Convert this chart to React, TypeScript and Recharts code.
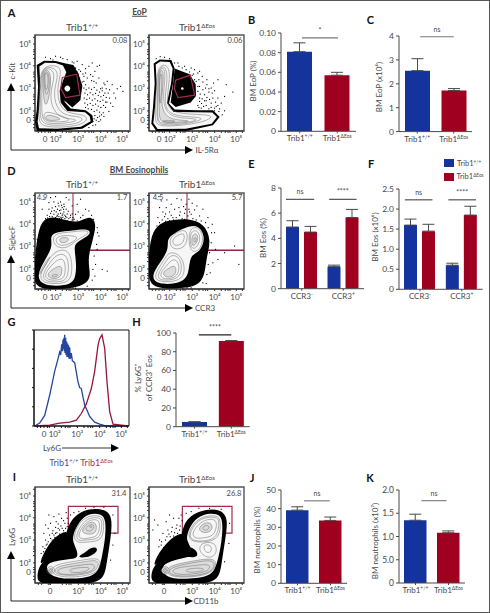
import { ReactNode } from "react";
import {
  BarChart,
  Bar,
  Cell,
  ErrorBar,
  XAxis,
  YAxis,
  ReferenceLine,
  ReferenceArea,
  ScatterChart,
  Scatter,
  LineChart,
  Line,
} from "recharts";

const FONT = "Lato, 'Open Sans', sans-serif";
const INK = "#484848";
const BLUE = "#15339c";
const RED = "#a00020";
const GATE = "#a02c4c";

// ---- bar data ----
const tribCats = ["Trib1+/+", "Trib1ΔEos"];
const ccrCats = ["CCR3-", "CCR3+"];
const tribColors = [BLUE, RED];

const eopPct = [0.081, 0.057];
const eopPctErr = [0.009, 0.003];
const eopAbs = [2.55, 1.72];
const eopAbsErr = [0.5, 0.08];
const eosPctWt = [4.9, 1.75];
const eosPctWtErr = [0.5, 0.12];
const eosPctKo = [4.5, 5.65];
const eosPctKoErr = [0.45, 0.65];
const eosAbsWt = [1.6, 0.6];
const eosAbsWtErr = [0.15, 0.05];
const eosAbsKo = [1.45, 1.85];
const eosAbsKoErr = [0.17, 0.22];
const ly6gPct = [5, 91.5];
const ly6gPctErr = [0.3, 0.4];
const neuPct = [39.2, 33.7];
const neuPctErr = [1.8, 1.8];
const neuAbs = [1.35, 1.08];
const neuAbsErr = [0.13, 0.04];

// ---- histogram G, x in display channels, y in % of max ----
const histBlue = [[2,0],[17,3],[32,11],[47,32],[62,57],[72,70],[77,77],[80,74],[83,85],[85,78],[87,90],[88,80],[90,92],[91,78],[92,95],[93,76],[95,92],[96,74],[98,88],[99,72],[101,86],[102,72],[104,84],[105,70],[107,82],[109,70],[112,76],[115,68],[122,66],[132,46],[137,40],[142,39],[147,30],[152,22],[167,10],[182,4],[197,2],[217,0],[282,0]];
const histRed = [[2,0],[47,1],[77,3],[107,4],[127,6],[142,13],[157,23],[172,39],[182,57],[192,84],[197,91],[204,95],[212,81],[219,46],[227,15],[237,2],[282,0]];

// ---- flow plots: all coordinates are display channels (0..285) ----
const channelTicks = [30, 62, 130, 197, 262];
const channelTicksI = [45, 130, 197, 262];
const yChannelTicks = [32, 60, 128, 195, 260];
const decadeLabels = ["0", "10²", "10³", "10⁴", "10⁵"];
const decadeLabelsI = ["0", "10³", "10⁴", "10⁵"];
const minorTicks = [10, 20, 40, 46, 82, 94, 102, 108, 150, 162, 170, 176, 217, 229, 237, 243, 280];

const a1Cloud = [[92,202],[115,197],[130,172],[142,135],[136,92],[112,70],[87,92],[72,102],[75,152]];
const a1Black = [[5,197],[27,210],[62,209],[92,202],[105,180],[97,152],[87,122],[89,87],[107,67],[152,62],[172,47],[175,27],[142,7],[67,0],[5,0],[0,27],[5,62],[9,132]];
const a1Inner = [[13,193],[30,204],[62,203],[84,196],[94,176],[84,150],[74,120],[77,85],[97,60],[150,56],[164,44],[167,29],[138,13],[67,7],[12,8],[8,28],[12,65],[16,132]];
const a1Rings = [
  [[14,192],[60,198],[82,185],[68,140],[68,90],[90,52],[150,50],[160,32],[125,12],[25,10],[9,30],[14,100]],
  [[17,190],[55,192],[72,172],[58,130],[58,85],[82,45],[138,44],[146,32],[115,18],[32,15],[13,35],[18,110]],
  [[20,188],[50,187],[60,165],[48,125],[46,80],[72,38],[120,36],[126,30],[90,23],[36,20],[18,40],[22,120]],
  [[23,186],[46,182],[48,140],[40,90],[30,70],[24,120]],
  [[26,182],[42,176],[44,135],[35,100],[28,125]],
  [[29,178],[39,170],[40,140],[33,115],[30,140]],
  [[28,60],[60,52],[105,36],[100,28],[40,26],[25,38]],
  [[35,50],[60,44],[85,34],[45,30],[30,36]],
];
const a1Gate = [[82,160],[125,170],[135,107],[92,100],[77,127]];
const a1Hole = [[84,127],[97,140],[110,127],[97,114]];
const a1Dots = [[120,190],[130,185],[140,200],[150,188],[160,195],[170,205],[178,180],[185,195],[192,198],[150,175],[165,170],[172,165],[145,165],[135,180],[60,225],[75,222],[95,215],[110,208],[30,222],[45,218],[145,150],[175,150],[190,160],[205,145],[215,150],[230,140],[245,128],[255,135],[262,120],[235,115],[240,100],[225,85],[232,75],[220,60],[205,45],[195,35],[180,20],[160,12],[150,140],[195,128],[128,172],[142,172],[155,160],[168,152],[182,145],[212,128],[218,115],[222,100],[214,88],[210,72],[203,56],[190,30],[172,18],[200,130],[208,140],[222,125],[115,205],[125,210],[82,218],[52,214],
  [145,130],[152,125],[160,130],[168,126],[176,132],[184,124],[192,118],[200,122],[208,115],[148,115],[156,110],[164,116],[172,110],[180,114],[188,108],[196,104],[204,108],[212,102],[146,100],[154,96],[162,100],[170,94],[178,98],[186,92],[194,90],[202,94],[210,88],[148,85],[156,80],[164,84],[172,78],[180,82],[188,76],[196,72],[204,78],[150,72],[158,68],[168,66],[176,60],[184,64],[192,58],[198,50],[178,48],[186,42],[192,46],[182,34],[172,30],[176,38],[136,140],[140,148],[132,160],[125,178],[118,188]];

const a2Cloud = [[77,187],[100,178],[122,170],[140,140],[141,105],[125,85],[80,72],[65,85],[72,140]];
const a2Black = [[14,202],[32,214],[67,212],[77,187],[72,142],[60,82],[77,64],[142,62],[192,62],[212,42],[192,17],[112,0],[22,0],[7,22],[12,72],[17,142]];
const a2Inner = [[20,199],[34,208],[62,206],[71,187],[66,142],[54,84],[74,57],[142,56],[190,55],[204,42],[188,22],[110,7],[26,6],[13,24],[18,72],[23,142]];
const a2Rings = [
  [[23,198],[58,200],[64,160],[50,85],[70,50],[180,50],[192,40],[150,22],[30,10],[16,30],[22,100]],
  [[26,194],[52,194],[56,150],[44,85],[62,44],[150,42],[165,35],[110,20],[34,16],[22,32],[26,100]],
  [[28,190],[48,190],[48,150],[40,85],[60,40],[130,38],[150,33],[110,24],[35,20],[24,35],[28,100]],
  [[31,185],[44,183],[42,130],[35,75],[55,34],[115,32],[125,28],[60,24],[34,28],[30,50],[31,120]],
  [[33,175],[40,170],[37,110],[33,70],[30,110]],
  [[45,32],[90,30],[60,26],[38,28]],
];
const a2Gate = [[80,152],[124,167],[137,107],[87,100],[76,127]];
const a2Hole = [[94,127],[100,133],[106,127],[100,121]];
const a2Dots = [[20,218],[32,224],[45,222],[60,218],[75,205],[88,195],[98,190],[110,185],[120,178],[132,172],[145,175],[158,165],[148,155],[160,148],[172,140],[185,130],[195,122],[178,118],[165,110],[158,98],[170,92],[185,85],[150,90],[162,75],[178,68],[195,70],[208,60],[218,50],[145,78],[140,150],[150,135],[205,155],[230,140],[250,118],[225,105],[205,100],[85,205],[105,195],[125,190],[150,180],[135,185],[172,155],[192,145],[215,85],[225,62],
  [145,120],[152,112],[150,100],[156,84],[165,92],[172,102],[180,96],[190,100],[198,88],[205,78],[210,68],[170,78],[185,72],[155,70],[148,72],[195,62],[200,75],[160,125],[168,130],[178,128],[188,115],[145,135],[135,155],[128,168]];

const d1Black = [[4,2],[-4,35],[1,105],[8,165],[24,212],[62,216],[97,204],[132,198],[164,220],[186,198],[173,145],[156,85],[171,32],[140,6],[67,-2]];
const d1Inner = [[44,158],[66,171],[112,174],[161,182],[170,163],[128,142],[116,128],[124,85],[123,26],[94,9],[23,9],[4,40],[30,87],[54,128]];
const d1Rings = [
  [[60,115],[100,120],[112,80],[110,30],[85,15],[25,16],[12,40],[35,80]],
  [[65,105],[95,105],[102,70],[98,33],[80,20],[32,21],[20,40],[42,75]],
  [[70,90],[88,90],[92,60],[88,33],[70,26],[38,26],[27,42],[48,70]],
  [[72,70],[82,65],[80,40],[65,30],[45,31],[35,45],[55,60]],
  [[60,45],[72,42],[60,35],[46,38]],
  [[50,155],[70,168],[110,170],[158,177],[163,165],[125,148],[100,122],[62,122]],
  [[60,150],[75,160],[105,160],[130,156],[120,145],[95,130],[68,130]],
  [[72,150],[85,155],[105,152],[95,138],[75,138]],
  [[55,110],[30,80],[15,50],[10,35]],
];
const d1Dots = [[60,215],[65,222],[70,218],[75,228],[80,222],[85,232],[72,236],[62,232],[55,225],[50,218],[45,228],[40,240],[35,222],[30,212],[90,218],[95,226],[100,212],[92,240],[80,245],[70,250],[60,248],[50,244],[85,255],[75,262],[55,262],[40,260],[45,275],[60,278],[25,270],[20,240],[105,222],[112,215],[120,225],[128,232],[135,215],[142,222],[150,240],[160,235],[110,250],[125,255],[135,270],[100,268],[92,275],[168,222],[185,185],[190,160],[185,120],[180,75],[178,40],[200,60],[215,55],[65,212],[78,213],[88,212],[110,208],[125,205],
  [58,212],[64,218],[68,226],[76,216],[82,226],[88,222],[94,216],[98,234],[84,240],[76,238],[66,240],[56,236],[48,234],[42,218],[52,212],[36,214],[86,248],[78,252],[68,258],[104,216],[110,226],[116,210],[72,212],[82,216],[95,206],[106,204],[118,202],[174,210],[186,170],[183,135],[176,100],[172,60],[170,28],[155,10],[120,4],[5,150],[3,120]];

const d2Black = [[7,1],[-3,45],[0,115],[10,174],[40,201],[72,206],[117,211],[166,196],[187,145],[172,95],[168,42],[146,8],[92,1]];
const d2Inner = [[54,147],[70,164],[111,185],[148,193],[170,155],[155,111],[121,102],[121,42],[94,15],[23,13],[5,40],[40,87],[59,122]];
const d2Rings = [
  [[60,115],[100,100],[110,50],[90,22],[28,20],[13,40],[45,85]],
  [[65,105],[95,95],[100,50],[82,28],[35,24],[22,40],[50,80]],
  [[70,90],[88,85],[92,50],[75,32],[42,28],[30,44],[55,72]],
  [[72,70],[82,65],[80,42],[62,35],[48,36],[40,50],[60,62]],
  [[60,148],[78,168],[115,182],[116,140],[98,118],[66,120]],
  [[118,182],[147,188],[166,155],[152,112],[120,108]],
  [[122,172],[145,178],[156,152],[144,122],[124,118]],
  [[128,162],[144,168],[148,148],[138,130],[128,128]],
  [[134,152],[142,156],[142,142],[135,138]],
  [[70,150],[85,160],[108,170],[105,140],[90,130],[72,130]],
];
const d2Dots = [[25,215],[30,200],[22,190],[38,208],[45,218],[55,212],[65,222],[72,208],[80,215],[90,222],[98,212],[105,228],[115,220],[125,225],[118,240],[110,255],[118,270],[102,248],[88,245],[75,240],[65,255],[50,245],[40,232],[30,245],[35,265],[52,268],[28,278],[135,238],[142,250],[150,220],[160,240],[128,258],[95,268],[82,272],[175,215],[188,195],[195,170],[198,120],[190,80],[182,50],[205,90],[255,130],[268,75],[225,110],[170,18],
  [130,212],[140,208],[155,205],[168,200],[176,185],[186,170],[185,140],[180,110],[176,75],[172,45],[160,20],[125,5],[100,2],[48,204],[60,206],[85,206],[105,210],[70,215],[92,232],[108,240],[120,232],[60,232],[48,226]];

const i1Black = [[4,12],[12,54],[42,81],[72,86],[84,114],[98,170],[120,202],[157,222],[209,222],[233,199],[227,132],[214,52],[204,-2],[97,-4],[18,-4]];
const i1Wedge = [[12,50],[42,77],[72,82],[87,112],[100,155],[85,152],[60,138],[40,113],[22,82]];
const i1Inner = [[112,142],[132,184],[159,208],[199,208],[213,188],[211,132],[201,80],[194,48],[178,18],[100,10],[42,21],[30,56],[60,66],[110,72],[130,76],[125,100],[115,120]];
const i1Blob = [[125,78],[150,90],[165,105],[185,108],[188,95],[170,82],[150,75]];
const i1Rings = [
  [[114,140],[132,180],[160,202],[198,202],[208,186],[204,130],[175,124],[150,122],[125,120]],
  [[122,140],[138,174],[162,196],[195,196],[202,184],[198,135],[170,130],[145,128],[130,126]],
  [[128,140],[142,170],[165,190],[190,190],[195,175],[190,140],[165,135],[140,130]],
  [[140,160],[160,183],[185,182],[185,150],[165,145],[145,148]],
  [[150,165],[170,178],[180,170],[170,155],[155,155]],
  [[160,170],[172,172],[170,162]],
  [[50,55],[130,66],[195,78],[198,50],[178,24],[100,15],[48,25]],
  [[60,50],[130,60],[190,72],[192,50],[172,28],[100,20],[55,28]],
  [[70,45],[130,52],[180,60],[180,40],[150,28],[90,24],[65,30]],
  [[100,42],[150,48],[168,45],[150,32],[105,30]],
  [[30,37],[47,55],[65,37],[47,22]],
  [[37,37],[47,47],[57,37],[47,28]],
  [[42,37],[47,42],[52,37],[47,32]],
];
const i1Dots = [[17,90],[22,110],[30,130],[35,118],[42,145],[50,130],[38,165],[45,180],[52,158],[60,150],[68,165],[62,185],[72,148],[80,165],[88,180],[78,195],[55,200],[30,175],[25,150],[95,195],[105,205],[92,212],[70,208],[115,212],[130,215],[150,225],[175,228],[205,228],[232,205],[238,150],[75,140],[95,170],[58,138],[48,118],[35,100],[232,115],[225,70],[40,205],[68,178],[82,150],
  [45,135],[38,125],[55,145],[64,152],[72,160],[84,158],[90,165],[76,172],[60,168],[50,150],[28,105],[24,95],[32,115],[98,180],[84,188]];

const i2Black = [[4,12],[11,49],[42,76],[72,86],[94,124],[103,175],[125,202],[162,219],[214,222],[238,194],[229,132],[217,52],[207,-2],[102,-4],[18,-4]];
const i2Wedge = [[11,45],[42,72],[72,82],[97,122],[105,150],[85,145],[60,128],[40,103],[22,77]];
const i2Inner = [[112,142],[130,183],[160,206],[207,209],[222,189],[219,130],[209,78],[199,43],[181,18],[100,10],[47,18],[35,50],[65,66],[110,76],[138,82],[125,105],[115,125]];
const i2Blob = [[85,85],[125,75],[150,80],[140,100],[120,110],[100,100]];
const i2Rings = [
  [[114,140],[132,178],[162,200],[205,203],[216,187],[212,132],[170,122],[132,122]],
  [[118,140],[135,175],[162,196],[203,198],[212,185],[205,135],[170,125],[135,125]],
  [[128,145],[142,170],[168,190],[198,192],[205,175],[195,140],[165,135],[140,132]],
  [[145,160],[165,182],[190,180],[190,155],[165,148]],
  [[158,168],[178,175],[182,162],[165,155]],
  [[150,120],[200,125],[205,88],[182,72],[152,88]],
  [[160,115],[188,115],[188,92],[170,88]],
  [[55,52],[130,65],[200,78],[202,45],[172,22],[95,15],[50,25]],
  [[65,48],[130,60],[195,72],[198,45],[170,25],[95,18],[55,28]],
  [[75,45],[135,52],[185,58],[182,38],[150,28],[90,24],[68,32]],
  [[110,42],[155,46],[170,40],[145,32],[110,32]],
  [[32,37],[49,55],[67,37],[49,22]],
  [[39,37],[49,47],[59,37],[49,28]],
  [[44,37],[49,42],[54,37],[49,32]],
];
const i2Dots = [[10,160],[15,190],[25,175],[40,150],[48,130],[35,115],[55,160],[62,140],[68,168],[75,152],[82,175],[50,185],[88,195],[72,195],[60,205],[95,205],[110,210],[125,215],[148,225],[180,225],[215,222],[240,180],[238,120],[225,65],[30,130],[42,108],[78,135],[90,160],
  [52,140],[58,148],[66,155],[72,142],[84,150],[92,172],[98,188],[80,165],[28,110],[36,125]];

const pts = (a: number[][]) => a.map(([x, y]) => ({ x, y }));
const noDot = () => <g />;
const speck = (p: any) => <rect x={p.cx} y={p.cy} width={1.1} height={1.1} fill="#000" />;

function Txt({ x, y, size = 8, color = INK, rotate = 0, weight = 400, children, underline = false }: {
  x: number; y: number; size?: number; color?: string; rotate?: number; weight?: number; children: ReactNode; underline?: boolean;
}) {
  return (
    <div
      style={{
        position: "absolute",
        left: x,
        top: y,
        fontSize: size,
        fontFamily: FONT,
        fontWeight: weight,
        color,
        whiteSpace: "nowrap",
        lineHeight: 1,
        textDecoration: underline ? "underline" : "none",
        transform: `translate(-50%,-50%) rotate(${rotate}deg)`,
      }}
    >
      {children}
    </div>
  );
}

const Sup = ({ children }: { children: ReactNode }) => (
  <span style={{ fontSize: "0.62em", verticalAlign: "0.5em", lineHeight: 0 }}>{children}</span>
);

function Blob({ data, fill, stroke = "none", width = 0.5, joint = "linearClosed" }: any) {
  return (
    <Scatter
      data={pts(data)}
      shape={noDot}
      isAnimationActive={false}
      line={{ fill, stroke, strokeWidth: width }}
      lineJointType={joint}
    />
  );
}

function FlowPanel({ left, top, black, cloud, inner, blob, hole, rings, dots, gate, rect, cross, smooth = false, xTicks = channelTicks, xLabels = decadeLabels }: any) {
  const labels: Record<number, string> = {};
  xTicks.forEach((t: number, i: number) => (labels[t] = xLabels[i]));
  const yLabels: Record<number, string> = {};
  yChannelTicks.forEach((t, i) => (yLabels[t] = decadeLabels[i]));
  const tickStyle = { fontSize: 8, fill: INK, fontFamily: FONT };
  const bodyJoint = smooth ? "basisClosed" : "linearClosed";
  return (
    <div style={{ position: "absolute", left: left - 27, top: top - 3 }}>
      <ScatterChart width={127} height={114} margin={{ top: 2, right: 6, bottom: 0, left: 0 }}>
        <XAxis
          type="number"
          dataKey="x"
          domain={[0, 285]}
          allowDataOverflow
          ticks={[...xTicks, ...minorTicks].sort((a, b) => a - b)}
          tickFormatter={(v: number) => labels[v] ?? ""}
          interval={0}
          height={16}
          tick={tickStyle}
          tickSize={2}
          tickMargin={3}
          stroke="#333"
        />
        <YAxis
          type="number"
          dataKey="y"
          domain={[0, 287]}
          allowDataOverflow
          ticks={[...yChannelTicks, ...minorTicks].sort((a, b) => a - b)}
          tickFormatter={(v: number) => yLabels[v] ?? ""}
          interval={0}
          width={26}
          tick={tickStyle}
          tickSize={2}
          tickMargin={2}
          stroke="#333"
        />
        <Scatter data={pts(dots)} shape={speck} isAnimationActive={false} />
        {cloud && <Blob data={cloud} fill="#000" joint={bodyJoint} />}
        <Blob data={black} fill="#000" joint={bodyJoint} />
        <Blob data={inner} fill="#f6f6f6" joint={bodyJoint} />
        {blob && <Blob data={blob} fill="#000" joint="basisClosed" />}
        {rings.map((r: number[][], i: number) => (
          <Blob key={i} data={r} fill={i % 4 === 3 ? "#dcdcdc" : "none"} stroke="#666" width={0.5} joint="basisClosed" />
        ))}
        {hole && <Blob data={hole} fill="#fff" joint="basisClosed" />}
        {gate && <Blob data={gate} fill="none" stroke={GATE} width={1.2} />}
        {cross && <ReferenceLine x={cross[0]} stroke="#8c2444" strokeWidth={1} />}
        {cross && <ReferenceLine y={cross[1]} stroke="#8c2444" strokeWidth={1.5} />}
        {rect && (
          <ReferenceArea x1={rect[0]} x2={rect[1]} y1={rect[2]} y2={rect[3]} fill="none" fillOpacity={0} stroke={GATE} strokeWidth={1.2} />
        )}
        <ReferenceArea x1={0} x2={285} y1={0} y2={287} fill="none" fillOpacity={0} stroke="#555" strokeWidth={1.4} />
      </ScatterChart>
    </div>
  );
}

function BarTick({ x, y, payload }: any) {
  const m = String(payload.value).match(/^(Trib1|CCR3)(.*)$/);
  return (
    <text x={x} y={y + 6} textAnchor="middle" fontSize={8} fill={INK} fontFamily={FONT}>
      <tspan>{m ? m[1] : payload.value}</tspan>
      <tspan fontSize={5} dy={-3}>{m ? m[2] : ""}</tspan>
    </text>
  );
}

function BarPanel({ axisX, topY, zeroY, rightX, cats, series, ticks, tickFmt, max, sig = [], size = 25, gap = 5, sigColor = "#777" }: any) {
  const rows = cats.map((c: string, i: number) => {
    const row: any = { c };
    series.forEach((s: any, k: number) => {
      row[`v${k}`] = s.values[i];
      row[`e${k}`] = [0, s.err[i]];
    });
    return row;
  });
  return (
    <div style={{ position: "absolute", left: axisX - 31, top: topY - 17 }}>
      <BarChart
        width={rightX - axisX + 34}
        height={zeroY - topY + 37}
        data={rows}
        margin={{ top: 16, right: 4, bottom: 0, left: 0 }}
        barGap={gap}
        barSize={size}
      >
        <XAxis dataKey="c" height={20} tick={<BarTick />} tickSize={2} stroke={INK} interval={0} />
        <XAxis xAxisId="frac" type="number" domain={[0, 1]} hide />
        <YAxis
          width={30}
          domain={[0, max]}
          ticks={ticks}
          tickFormatter={tickFmt}
          interval={0}
          tick={{ fontSize: 8.5, fill: INK, fontFamily: FONT }}
          tickSize={3}
          tickMargin={2}
          stroke={INK}
          allowDataOverflow
        />
        {series.map((s: any, k: number) => (
          <Bar key={k} dataKey={`v${k}`} fill={s.color} isAnimationActive={false}>
            {s.colors && s.colors.map((col: string) => <Cell key={col} fill={col} />)}
            <ErrorBar dataKey={`e${k}`} direction="y" width={6} stroke={INK} strokeWidth={1} isAnimationActive={false} />
          </Bar>
        ))}
        {sig.map((g: any, i: number) => (
          <ReferenceLine
            key={i}
            xAxisId="frac"
            segment={[{ x: g.from, y: g.at }, { x: g.to, y: g.at }]}
            stroke={sigColor}
            strokeWidth={1.1}
            label={{ value: g.text, position: "top", fontSize: 7, fill: INK, fontFamily: FONT }}
          />
        ))}
      </BarChart>
    </div>
  );
}

function Histogram() {
  const labels: Record<number, string> = {};
  channelTicks.forEach((t, i) => (labels[t] = decadeLabels[i]));
  return (
    <div style={{ position: "absolute", left: 7, top: 327 }}>
      <LineChart width={127} height={114} margin={{ top: 2, right: 6, bottom: 0, left: 0 }}>
        <XAxis
          type="number"
          dataKey="x"
          domain={[0, 285]}
          allowDataOverflow
          ticks={[...channelTicks, ...minorTicks].sort((a, b) => a - b)}
          tickFormatter={(v: number) => labels[v] ?? ""}
          interval={0}
          height={16}
          tick={{ fontSize: 8, fill: INK, fontFamily: FONT }}
          tickSize={2}
          tickMargin={3}
          stroke="#111"
        />
        <YAxis type="number" width={26} domain={[0, 100]} ticks={[0, 20, 40, 60, 80, 100]} tickFormatter={() => ""} tickSize={2} stroke="#111" />
        <Line data={pts(histBlue)} dataKey="y" stroke="#23459f" strokeWidth={1.3} dot={false} isAnimationActive={false} />
        <Line data={pts(histRed)} dataKey="y" stroke="#96163a" strokeWidth={1.3} dot={false} isAnimationActive={false} />
        <ReferenceArea x1={0} x2={285} y1={0} y2={100} fill="none" fillOpacity={0} stroke="#111" strokeWidth={1} />
      </LineChart>
    </div>
  );
}

const WtTitle = () => <>Trib1<Sup>+/+</Sup></>;
const KoTitle = () => <>Trib1<Sup>ΔEos</Sup></>;

function Arrows() {
  const head = (x: number, y: number, dir: "up" | "right") =>
    dir === "up"
      ? `${x - 4},${y + 8} ${x},${y} ${x + 4},${y + 8}`
      : `${x - 8},${y - 4} ${x},${y} ${x - 8},${y + 4}`;
  const rows = [
    { top: 82, y: 149 },
    { top: 254, y: 307 },
    { top: 550, y: 600 },
  ];
  return (
    <svg width={490} height={613} style={{ position: "absolute", left: 0, top: 0 }}>
      {rows.map((r) => (
        <g key={r.y}>
          <polyline points={`10,${r.top + 4} 10,${r.y} 189,${r.y}`} fill="none" stroke="#222" strokeWidth={1} />
          <polygon points={head(10, r.top, "up")} fill="#000" />
          <polygon points={head(192, r.y, "right")} fill="#000" />
        </g>
      ))}
      <line x1={61} x2={111} y1={447} y2={447} stroke="#777" strokeWidth={1.4} />
      <polygon points={head(118, 447, "right")} fill="#000" />
    </svg>
  );
}

export default function App() {
  return (
    <div style={{ position: "absolute", left: 0, top: 0, width: 488, height: 611, border: "1px solid #555", background: "#fff", overflow: "hidden" }}>
      <FlowPanel left={34.5} top={35} black={a1Black} cloud={a1Cloud} inner={a1Inner} rings={a1Rings} hole={a1Hole} dots={a1Dots} gate={a1Gate} />
      <FlowPanel left={149.3} top={35} black={a2Black} cloud={a2Cloud} inner={a2Inner} rings={a2Rings} hole={a2Hole} dots={a2Dots} gate={a2Gate} />
      <FlowPanel left={34.5} top={192.7} smooth black={d1Black} inner={d1Inner} rings={d1Rings} dots={d1Dots} cross={[114, 116]} />
      <FlowPanel left={149.3} top={192.7} smooth black={d2Black} inner={d2Inner} rings={d2Rings} dots={d2Dots} cross={[114, 116]} />
      <FlowPanel left={34.5} top={487.3} smooth black={i1Black} cloud={i1Wedge} inner={i1Inner} blob={i1Blob} rings={i1Rings} dots={i1Dots} rect={[100, 249, 149, 229]} xTicks={channelTicksI} xLabels={decadeLabelsI} />
      <FlowPanel left={149.3} top={487.3} smooth black={i2Black} cloud={i2Wedge} inner={i2Inner} blob={i2Blob} rings={i2Rings} dots={i2Dots} rect={[100, 249, 149, 229]} xTicks={channelTicksI} xLabels={decadeLabelsI} />
      <Histogram />

      <BarPanel axisX={281} topY={33} zeroY={130.3} rightX={356} cats={tribCats} max={0.1} ticks={[0, 0.02, 0.04, 0.06, 0.08, 0.1]} tickFmt={(v: number) => (v === 0 ? "0" : v.toFixed(2))}
        series={[{ values: eopPct, err: eopPctErr, color: BLUE, colors: tribColors }]} sig={[{ from: 0.28, to: 0.76, at: 0.095, text: "*" }]} />
      <BarPanel axisX={399} topY={35.7} zeroY={130.3} rightX={472} cats={tribCats} max={4} ticks={[0, 1, 2, 3, 4]}
        series={[{ values: eopAbs, err: eopAbsErr, color: BLUE, colors: tribColors }]} sig={[{ from: 0.29, to: 0.75, at: 3.97, text: "ns" }]} />
      <BarPanel axisX={281} topY={188.3} zeroY={288} rightX={364} cats={ccrCats} max={8} ticks={[0, 2, 4, 6, 8]} size={13} gap={5} sigColor="#444"
        series={[{ values: eosPctWt, err: eosPctWtErr, color: BLUE }, { values: eosPctKo, err: eosPctKoErr, color: RED }]}
        sig={[{ from: 0.06, to: 0.4, at: 7.1, text: "ns" }, { from: 0.58, to: 0.91, at: 7.1, text: "****" }]} />
      <BarPanel axisX={399.3} topY={188.7} zeroY={288} rightX={483} cats={ccrCats} max={2.5} ticks={[0, 0.5, 1, 1.5, 2, 2.5]} tickFmt={(v: number) => (v === 0 ? "0" : v.toFixed(1))} size={13} gap={5} sigColor="#444"
        series={[{ values: eosAbsWt, err: eosAbsWtErr, color: BLUE }, { values: eosAbsKo, err: eosAbsKoErr, color: RED }]}
        sig={[{ from: 0.07, to: 0.4, at: 2.23, text: "ns" }, { from: 0.59, to: 0.92, at: 2.23, text: "****" }]} />
      <BarPanel axisX={176.3} topY={333.3} zeroY={426} rightX={250} cats={tribCats} max={100} ticks={[0, 20, 40, 60, 80, 100]} sigColor="#222"
        series={[{ values: ly6gPct, err: ly6gPctErr, color: BLUE, colors: tribColors }]} sig={[{ from: 0.31, to: 0.75, at: 98, text: "****" }]} />
      <BarPanel axisX={280.7} topY={490} zeroY={582.3} rightX={346.7} cats={tribCats} max={50} ticks={[0, 10, 20, 30, 40, 50]} size={22.5}
        series={[{ values: neuPct, err: neuPctErr, color: BLUE, colors: tribColors }]} sig={[{ from: 0.35, to: 0.74, at: 44.2, text: "ns" }]} />
      <BarPanel axisX={399.3} topY={490.3} zeroY={582.3} rightX={465.3} cats={tribCats} max={2} ticks={[0, 0.5, 1, 1.5, 2]} size={22.5}
        tickFmt={(v: number) => (v === 0 ? "0" : v === 0.5 ? "5.0" : v.toFixed(1))}
        series={[{ values: neuAbs, err: neuAbsErr, color: BLUE, colors: tribColors }]} sig={[{ from: 0.34, to: 0.72, at: 1.77, text: "ns" }]} />

      <Arrows />

      <Txt x={10.5} y={11} size={11} weight={700} color="#111">A</Txt>
      <Txt x={250.5} y={18} size={11} weight={700} color="#111">B</Txt>
      <Txt x={369.5} y={18} size={11} weight={700} color="#111">C</Txt>
      <Txt x={10.5} y={169} size={11} weight={700} color="#111">D</Txt>
      <Txt x={250.5} y={162} size={11} weight={700} color="#111">E</Txt>
      <Txt x={370} y={162} size={11} weight={700} color="#111">F</Txt>
      <Txt x={10.5} y={320} size={11} weight={700} color="#111">G</Txt>
      <Txt x={135.5} y={320} size={11} weight={700} color="#111">H</Txt>
      <Txt x={13.5} y={475} size={11} weight={700} color="#111">I</Txt>
      <Txt x={251} y={476} size={11} weight={700} color="#111">J</Txt>
      <Txt x={369} y={476} size={11} weight={700} color="#111">K</Txt>

      <Txt x={138.5} y={10.5} size={8.5} weight={700} underline>EoP</Txt>
      <Txt x={138} y={168.5} size={8.5} weight={700} underline>BM Eosinophils</Txt>

      <Txt x={81} y={26} size={10}><WtTitle /></Txt>
      <Txt x={196} y={26} size={10}><KoTitle /></Txt>
      <Txt x={81} y={183} size={10}><WtTitle /></Txt>
      <Txt x={196} y={183} size={10}><KoTitle /></Txt>
      <Txt x={81} y={478} size={10}><WtTitle /></Txt>
      <Txt x={196} y={478} size={10}><KoTitle /></Txt>

      <Txt x={119} y={40} size={7.5}>0.08</Txt>
      <Txt x={234} y={40} size={7.5}>0.06</Txt>
      <Txt x={41} y={197} size={7.5}>4.9</Txt>
      <Txt x={121} y={197} size={7.5}>1.7</Txt>
      <Txt x={157} y={197} size={7.5}>4.5</Txt>
      <Txt x={236} y={197} size={7.5}>5.7</Txt>
      <Txt x={118} y={493} size={7.5}>31.4</Txt>
      <Txt x={233} y={493} size={7.5}>26.8</Txt>

      <Txt x={11} y={70} size={8} rotate={-90}>c-Kit</Txt>
      <Txt x={206} y={148.5} size={8}>IL-5Rα</Txt>
      <Txt x={11} y={237} size={8} rotate={-90}>SiglecF</Txt>
      <Txt x={204} y={307} size={8}>CCR3</Txt>
      <Txt x={11} y={536} size={8} rotate={-90}>Ly6G</Txt>
      <Txt x={205} y={600} size={8}>CD11b</Txt>
      <Txt x={51} y={447} size={8}>Ly6G</Txt>

      <Txt x={80} y={461} size={9}>
        <span style={{ color: "#3a56a8" }}>Trib1<Sup>+/+</Sup></span>{" "}
        <span style={{ color: "#a8345a" }}>Trib1<Sup>ΔEos</Sup></span>
      </Txt>

      <Txt x={252} y={80} size={8} rotate={-90}>BM EoP (%)</Txt>
      <Txt x={378} y={86} size={8} rotate={-90}>BM EoP (x10⁴)</Txt>
      <Txt x={262} y={237} size={8} rotate={-90}>BM Eos (%)</Txt>
      <Txt x={374} y={236} size={8} rotate={-90}>BM Eos (x10⁶)</Txt>
      <Txt x={137} y={377} size={8} rotate={-90}>% Ly6G⁺</Txt>
      <Txt x={148} y={377} size={8} rotate={-90}>of CCR3⁺ Eos</Txt>
      <Txt x={256} y={539} size={8} rotate={-90}>BM neutrophils (%)</Txt>
      <Txt x={374} y={540} size={8} rotate={-90}>BM neutrophils (x10⁷)</Txt>

      <div style={{ position: "absolute", left: 443, top: 158, width: 10, height: 8, background: BLUE }} />
      <div style={{ position: "absolute", left: 443, top: 171.5, width: 10, height: 8, background: RED }} />
      <Txt x={468} y={163} size={7.5}><WtTitle /></Txt>
      <Txt x={469} y={176} size={7.5}><KoTitle /></Txt>
    </div>
  );
}
